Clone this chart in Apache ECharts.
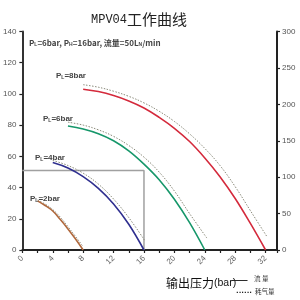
<!DOCTYPE html>
<html><head><meta charset="utf-8">
<script src="https://cdn.jsdelivr.net/npm/echarts@6/dist/echarts.min.js"></script>
<style>html,body{margin:0;padding:0;background:#fff}#c{width:300px;height:300px}</style>
</head><body><div id="c"></div>
<script>
// x ticks
const xTicks = [0, 4, 8, 12, 16, 20, 24, 28, 32];
// flow curves (left axis, L/min) : [pressure bar, flow]
const flowPL8 = [[8,103],[10,101.5],[12,99],[14,95.5],[16,91],[18,85],[20,78],[22,69.5],[24,59],[26,47],[28,33],[30,17],[32,0]];
const flowPL6 = [[6,79.5],[8,77.5],[10,74.5],[12,70],[14,63.5],[16,55],[18,45],[20,32.5],[22,17.5],[24,0]];
const flowPL4 = [[4,56],[6,52.5],[8,47],[10,39.5],[12,29.5],[14,16.5],[16,0]];
const flowPL2 = [[2,31.5],[3,28.5],[4,25],[5,19.5],[6,13.5],[7,7],[8,0]];
// air consumption (right axis)
const airPL8 = [[8,227],[10,223.5],[12,218],[14,211],[16,202],[18,190.5],[20,176.5],[22,159.5],[24,139.5],[26,116],[28,87],[30,54],[32.2,18]];
const airPL6 = [[6,175.5],[8,171.5],[10,165],[12,156],[14,143.5],[16,127.5],[18,107],[20,81],[22,50],[24.3,16]];
const airPL4 = [[4,123],[6,116],[8,105.5],[10,90.5],[12,70],[14,44.5],[16.1,13]];
const airPL2 = [[2,68.5],[3,63],[4,55.5],[5,45],[6,32],[7,18.5],[8,4.5]];
// operating point guide
const guide = [[0,51],[16,51],[16,0]];
const curveLabels = ['8bar','6bar','4bar','2bar'];
const legendNames = ['流 量','耗气量'];

const chart = echarts.init(document.getElementById('c'), null, {renderer:'canvas'});
const cjk = '"Noto Sans CJK SC", "Noto Sans", sans-serif';
const labStyle = {rich:{p:{fontSize:8,fontWeight:'bold',color:'#444',fontFamily:'"Liberation Sans", sans-serif'},s:{fontSize:5,color:'#444',verticalAlign:'bottom',padding:[4,0,0,0]}}};
function plLabel(v,left,top){
  return {text:'{p|P}{s|L}{p|=' + v + '}', left:left, top:top, textStyle:labStyle};
}
const solid = (name,data,color)=>({name:name,type:'line',data:data,yAxisIndex:0,showSymbol:false,symbol:'none',smooth:0.4,lineStyle:{color:color,width:1.6},itemStyle:{color:color},z:3});
const dotted = (name,data)=>({name:name,type:'line',data:data,yAxisIndex:1,showSymbol:false,symbol:'none',smooth:0.4,lineStyle:{color:'#8a8a7a',width:1,type:[1.5,1.5]},itemStyle:{color:'#8a8a7a'},z:2});
const keyText = {fontSize:6.5,fontWeight:'normal',color:'#333',fontFamily:cjk};

chart.setOption({
  animation:false,
  backgroundColor:'#fff',
  title:[
    {text:'{a|MPV04}{b|工作曲线}', left:86, top:7, textStyle:{rich:{a:{fontSize:12,fontWeight:'normal',fontFamily:'"Liberation Mono", monospace',color:'#222'},b:{fontSize:15,fontWeight:'normal',fontFamily:cjk,color:'#222'}}}},
    {text:'{p|P}{s|L}{p|=6bar, P}{s|H}{p|=16bar, 流量=50L}{s|N}{p|/min}', left:24, top:33, textStyle:{rich:{p:{fontSize:8,color:'#444',fontFamily:cjk},s:{fontSize:5,color:'#444',verticalAlign:'bottom',padding:[4,0,0,0]}}}},
    plLabel(curveLabels[0],51,66),
    plLabel(curveLabels[1],38,109),
    plLabel(curveLabels[2],30,148),
    plLabel(curveLabels[3],25,189),
    {text:'{c|输出压力}{e|(bar)}', left:161, top:272, textStyle:{rich:{c:{fontSize:12,fontWeight:'normal',color:'#111',fontFamily:cjk},e:{fontSize:10.5,fontWeight:'normal',color:'#111',fontFamily:'"Liberation Sans", sans-serif'}}}},
    {text:'——', left:231, top:274, padding:0, textStyle:{fontSize:10,fontWeight:'bold',color:'#222',fontFamily:cjk}},
    {text:legendNames[0], left:254, top:275.5, padding:0, textStyle:keyText},
    {text:'......', left:236, top:288, padding:0, textStyle:{fontSize:7,fontWeight:'bold',color:'#222',fontFamily:'"DejaVu Sans", sans-serif'}},
    {text:legendNames[1], left:255, top:288, padding:0, textStyle:keyText}
  ],
  grid:{left:20, right:23, top:31.5, bottom:50, containLabel:false},
  xAxis:{type:'value', min:0, max:33.5, interval:2,
    axisLine:{lineStyle:{color:'#222',width:2}},
    axisTick:{show:true,length:3,lineStyle:{color:'#222',width:1.2}},
    splitLine:{show:false},
    axisLabel:{rotate:45,fontSize:8,color:'#666',margin:7,
      formatter:v=> xTicks.indexOf(v)>=0 ? String(v) : ''}},
  yAxis:[
    {type:'value', min:0, max:140, interval:20, position:'left',
     axisLine:{show:true,lineStyle:{color:'#333',width:2}},
     axisTick:{show:true,length:3,lineStyle:{color:'#222',width:1.2}},
     splitLine:{show:false},
     axisLabel:{fontSize:8,color:'#555',margin:6}},
    {type:'value', min:0, max:300, interval:50, position:'right',
     axisLine:{show:true,lineStyle:{color:'#222',width:2}},
     axisTick:{show:true,length:3,lineStyle:{color:'#222',width:1.2}},
     splitLine:{show:false},
     axisLabel:{fontSize:8,color:'#555',margin:5}}
  ],
  series:[
    {name:'guide',type:'line',data:guide,yAxisIndex:0,showSymbol:false,symbol:'none',lineStyle:{color:'#a0a0a0',width:1.5},z:1},
    dotted('耗气量 8bar',airPL8), dotted('耗气量 6bar',airPL6), dotted('耗气量 4bar',airPL4), dotted('耗气量 2bar',airPL2),
    solid('流量 8bar',flowPL8,'#d42a3c'),
    solid('流量 6bar',flowPL6,'#16976a'),
    solid('流量 4bar',flowPL4,'#2f2f8f'),
    solid('流量 2bar',flowPL2,'#b0683c')
  ]
});
</script></body></html>
